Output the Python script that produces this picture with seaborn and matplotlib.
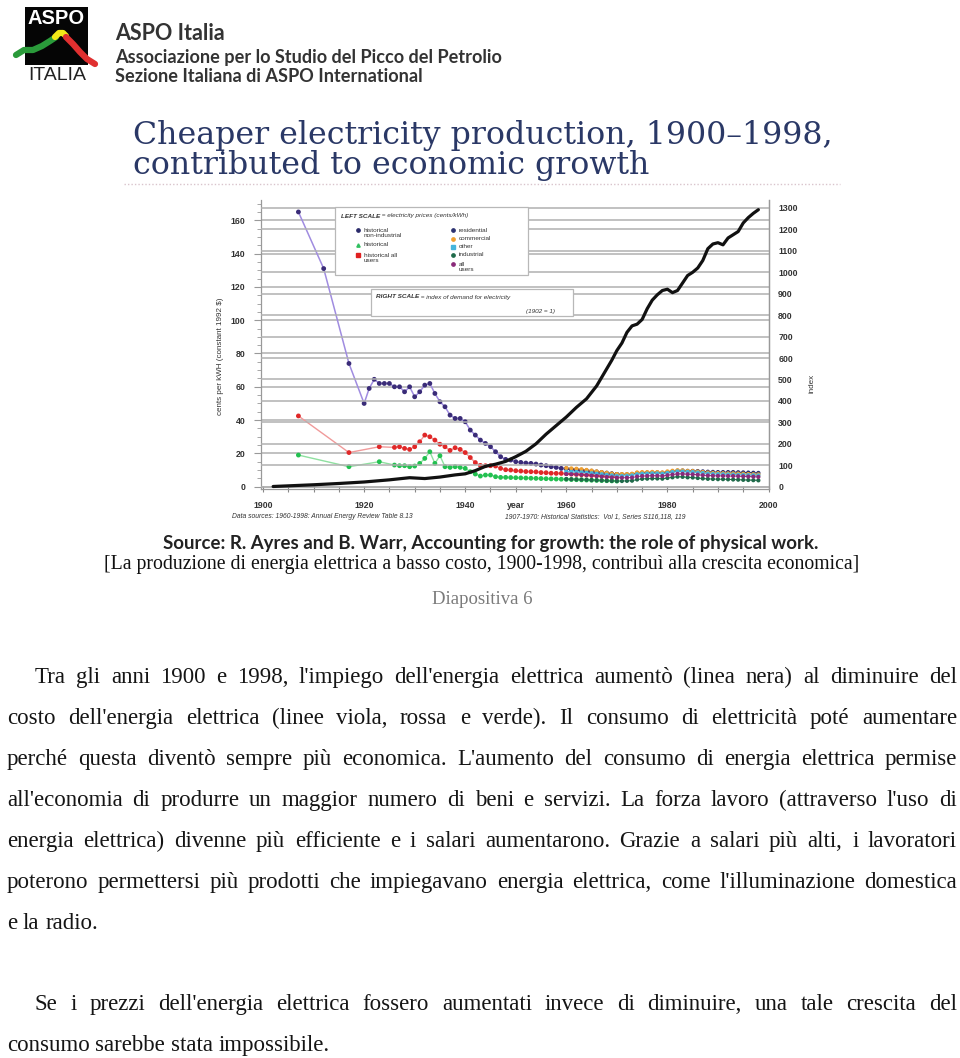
import numpy as np
import pandas as pd
import matplotlib
matplotlib.use('Agg')
import matplotlib.pyplot as plt
import seaborn as sns
from matplotlib.lines import Line2D
from matplotlib.patches import Rectangle
from matplotlib.ticker import MultipleLocator

# ---------------- data ----------------
hist_nonind_years = [1907, 1912, 1917] + list(range(1920, 1971))
hist_nonind = [165, 131, 74,
               50, 59, 64.5, 62, 62, 62, 60, 60, 57, 60,
               54, 57, 61, 62, 56, 51, 48, 43, 41, 41,
               39, 34, 31, 28, 26, 24, 21, 18, 16.4, 16,
               15, 14.6, 14.2, 14, 13.6, 13, 12.6, 12, 11.6, 11,
               10.8, 10.4, 10, 9.6, 9.2, 8.8, 8.4, 8, 7.6, 7.6,
               7.4]

hist_years = [1907, 1917, 1923] + list(range(1926, 1971))
hist_allusers = [42.5, 20.5, 24,
                 23.6, 24, 23, 22.4, 24, 27, 31, 30, 28, 25.5,
                 24, 21.8, 23.4, 22.4, 20.5, 17.5, 14.5, 12.8, 12.6, 12.6,
                 12.4, 11, 10.2, 10, 9.6, 9.4, 9.1, 9, 8.9, 8.5,
                 8.4, 8.1, 8, 8, 7.8, 7.6, 7.4, 7.2, 7, 6.8,
                 6.6, 6.4, 6.2, 6.0, 5.9]
hist_historical = [19, 12, 15,
                   13, 12.6, 12.6, 12, 12.4, 14, 17, 21, 14, 18.6,
                   12, 11.6, 12, 11.6, 11, 9, 7.6, 6.4, 7, 7,
                   6, 5.6, 5.6, 5.5, 5.4, 5.3, 5.2, 5.1, 5.0, 4.9,
                   4.8, 4.7, 4.6, 4.5, 4.4, 4.3, 4.2, 4.1, 4.0, 3.9,
                   3.8, 3.7, 3.6, 3.5, 3.4]

aer_years = list(range(1960, 1999))
aer_residential = [10.6, 10.5, 10.3, 10.1, 9.8, 9.5, 9.1, 8.8, 8.4, 8.0,
                   7.6, 7.5, 7.5, 7.6, 8.2, 8.4, 8.5, 8.6, 8.6, 8.4,
                   8.8, 9.2, 9.6, 9.7, 9.5, 9.5, 9.4, 9.2, 9.0, 8.9,
                   8.8, 8.8, 8.8, 8.8, 8.7, 8.6, 8.5, 8.4, 8.3]
aer_commercial = [11.2, 11.0, 10.8, 10.5, 10.1, 9.7, 9.2, 8.8, 8.3, 7.9,
                  7.6, 7.6, 7.6, 7.8, 8.6, 8.8, 8.8, 8.9, 8.8, 8.6,
                  9.2, 9.6, 9.9, 9.8, 9.5, 9.4, 9.1, 8.8, 8.5, 8.3,
                  8.2, 8.1, 8.0, 8.0, 7.9, 7.8, 7.6, 7.5, 7.4]
aer_other = [9.0, 8.9, 8.8, 8.6, 8.4, 8.1, 7.8, 7.5, 7.1, 6.8,
             6.5, 6.5, 6.6, 6.8, 7.5, 7.8, 7.9, 8.0, 8.0, 7.8,
             8.3, 8.8, 9.2, 9.1, 8.9, 8.8, 8.5, 8.2, 7.9, 7.7,
             7.6, 7.5, 7.4, 7.3, 7.2, 7.1, 7.0, 6.9, 6.8]
aer_industrial = [4.6, 4.5, 4.4, 4.3, 4.2, 4.0, 3.9, 3.8, 3.6, 3.5,
                  3.4, 3.4, 3.5, 3.6, 4.3, 4.7, 4.8, 4.9, 4.9, 4.8,
                  5.2, 5.6, 6.0, 5.9, 5.6, 5.5, 5.2, 4.9, 4.7, 4.6,
                  4.5, 4.5, 4.4, 4.3, 4.2, 4.1, 4.0, 3.9, 3.8]
aer_allusers = [7.6, 7.5, 7.4, 7.2, 7.0, 6.7, 6.4, 6.1, 5.8, 5.6,
                5.4, 5.4, 5.4, 5.5, 6.1, 6.4, 6.5, 6.6, 6.6, 6.4,
                6.9, 7.3, 7.7, 7.7, 7.5, 7.4, 7.2, 6.9, 6.7, 6.6,
                6.5, 6.5, 6.4, 6.4, 6.3, 6.2, 6.1, 6.0, 5.9]

demand_years = [1902, 1905, 1910, 1915, 1920, 1925, 1929, 1932, 1935, 1938,
                1940, 1942, 1944, 1946, 1948, 1950, 1952, 1954, 1956, 1958,
                1960, 1962, 1964, 1965, 1966, 1967, 1968, 1969, 1970, 1971,
                1972, 1973, 1974, 1975, 1976, 1977, 1978, 1979, 1980, 1981,
                1982, 1983, 1984, 1985, 1986, 1987, 1988, 1989, 1990, 1991,
                1992, 1993, 1994, 1995, 1996, 1997, 1998]
demand_index = [1, 4, 9, 15, 22, 32, 42, 38, 45, 55,
                60, 75, 95, 105, 118, 140, 165, 200, 245, 285,
                325, 370, 410, 440, 470, 510, 550, 590, 635, 670,
                720, 750, 758, 780, 830, 870, 895, 915, 921, 905,
                915, 950, 985, 1000, 1020, 1055, 1110, 1132, 1138, 1128,
                1160, 1175, 1190, 1230, 1255, 1275, 1292]

x_ticks = [1900, 1920, 1940, 1950, 1960, 1980, 2000]
x_ticklabels = ['1900', '1920', '1940', 'year', '1960', '1980', '2000']
left_ticks = list(range(0, 161, 20))
right_ticks = list(range(0, 1301, 100))

aer_names = ['residential', 'commercial', 'other', 'industrial', 'all users']
aer_colors = ['#2b3170', '#f0a030', '#45b5dc', '#1f6a4a', '#8a2a7a']

# ---------------- figure ----------------
sns.set_theme(style='white')
plt.rcParams['font.family'] = ['DejaVu Sans']
W, H = 960, 1058
fig = plt.figure(figsize=(W / 100, H / 100), dpi=100)
fig.patch.set_facecolor('white')
renderer = fig.canvas.get_renderer()


def fx(px):
    return px / W


def fy(py):
    return 1 - py / H


def text_run(x0, y, parts, **kw):
    """Place consecutive text segments; parts = [(text, extra_kwargs), ...]."""
    x = x0
    for s, extra in parts:
        opts = dict(kw)
        opts.update(extra)
        t = fig.text(fx(x), fy(y), s, **opts)
        x += t.get_window_extent(renderer).width
    return x


ax_l, ax_r, ax_t, ax_b = 260.5, 768.5, 200.3, 489.2
ax = fig.add_axes([fx(ax_l), fy(ax_b), (ax_r - ax_l) / W, (ax_b - ax_t) / H])
ax.set_facecolor('white')
ylim_l = (-1.5, 172)
k = 1.665 / 0.2144
ax.set_xlim(1899.5, 2000)
ax.set_ylim(*ylim_l)

grid_c = '#b0b0b0'
for v in left_ticks:
    ax.axhline(v, color=grid_c, lw=1.1, zorder=0)

# historical series
df_non = pd.DataFrame({'year': hist_nonind_years, 'price': hist_nonind})
df_all = pd.DataFrame({'year': hist_years, 'price': hist_allusers})
df_his = pd.DataFrame({'year': hist_years, 'price': hist_historical})

sns.lineplot(data=df_his, x='year', y='price', ax=ax, color='#8fe0a0', lw=1.0, zorder=3)
sns.scatterplot(data=df_his, x='year', y='price', ax=ax, color='#22c050', s=12,
                edgecolor='none', zorder=4)
sns.lineplot(data=df_all, x='year', y='price', ax=ax, color='#f09a9a', lw=1.0, zorder=3)
sns.scatterplot(data=df_all, x='year', y='price', ax=ax, color='#e02828', s=12,
                edgecolor='none', zorder=4)
sns.lineplot(data=df_non, x='year', y='price', ax=ax, color='#a08ce0', lw=1.1, zorder=3)
sns.scatterplot(data=df_non, x='year', y='price', ax=ax, color='#3a2c78', s=12,
                edgecolor='none', zorder=4)

aer_long = pd.DataFrame({
    'year': aer_years * 5,
    'price': aer_residential + aer_commercial + aer_other + aer_industrial + aer_allusers,
    'series': sum([[n] * len(aer_years) for n in aer_names], []),
})
pal = dict(zip(aer_names, aer_colors))
sns.lineplot(data=aer_long, x='year', y='price', hue='series', palette=pal, ax=ax,
             lw=0.7, legend=False, zorder=3)
sns.scatterplot(data=aer_long, x='year', y='price', hue='series', palette=pal, ax=ax,
                s=9, edgecolor='none', legend=False, zorder=4)

ax.set_xlabel('')
ax.set_ylabel('')
ax.set_xticks(x_ticks)
ax.set_xticklabels(x_ticklabels)
ax.xaxis.set_minor_locator(MultipleLocator(5))
ax.set_yticks(left_ticks)
ax.yaxis.set_minor_locator(MultipleLocator(5))
tick_font = dict(family='Liberation Sans', weight='bold', size=6.3)
for lab in ax.get_xticklabels() + ax.get_yticklabels():
    lab.set_fontproperties(matplotlib.font_manager.FontProperties(**tick_font))
    lab.set_color('#333333')
ax.tick_params(axis='x', which='both', direction='inout', length=5, width=0.8,
               color='#888888', pad=6, bottom=True)
ax.tick_params(axis='y', which='major', direction='out', length=5, width=0.8,
               color='#999999', pad=6, left=True)
ax.tick_params(axis='y', which='minor', direction='out', length=3, width=0.6,
               color='#999999', left=True)
ax.spines['top'].set_visible(False)
for s in ['left', 'bottom', 'right']:
    ax.spines[s].set_color('#999999')
    ax.spines[s].set_linewidth(0.9)

# right axis: demand index
ax2 = ax.twinx()
ax2.set_ylim(ylim_l[0] * k, ylim_l[1] * k)
for v in right_ticks:
    ax2.axhline(v, color=grid_c, lw=1.1, zorder=0)
df_dem = pd.DataFrame({'year': demand_years, 'index': demand_index})
sns.lineplot(data=df_dem, x='year', y='index', ax=ax2, color='#111111', lw=2.3, zorder=5)
ax2.set_xlim(1899.5, 2000)
ax2.set_ylabel('')
ax2.set_xlabel('')
ax2.set_yticks(right_ticks)
for lab in ax2.get_yticklabels():
    lab.set_fontproperties(matplotlib.font_manager.FontProperties(**tick_font))
    lab.set_color('#333333')
ax2.tick_params(axis='y', direction='out', length=0, pad=7)
for s in ['top', 'left', 'bottom']:
    ax2.spines[s].set_visible(False)
ax2.spines['right'].set_color('#999999')
ax2.spines['right'].set_linewidth(0.9)

# axis titles
fig.text(fx(221), fy(356), 'cents per kWH (constant 1992 $)', rotation=90,
         ha='center', va='center', fontsize=5.8, family='Liberation Sans', color='#333333')
fig.text(fx(812), fy(383), 'index', rotation=90, ha='center', va='center',
         fontsize=5.8, family='Liberation Sans', color='#333333')

# legend boxes
box_c = '#b8b8b8'
fig.patches.append(Rectangle((fx(335), fy(275)), (528 - 335) / W, (275 - 207) / H,
                             transform=fig.transFigure, facecolor='white',
                             edgecolor=box_c, lw=0.9, zorder=6))
fig.patches.append(Rectangle((fx(371), fy(316)), (573 - 371) / W, (316 - 289) / H,
                             transform=fig.transFigure, facecolor='white',
                             edgecolor=box_c, lw=0.9, zorder=6))
lf = dict(family='Liberation Sans', fontsize=4.6, color='#333333', zorder=7, va='center')
text_run(341, 216, [('LEFT SCALE', dict(style='italic', weight='bold')),
                    (' = electricity prices (cents/kWh)', dict(style='italic'))], **lf)
leg_left = [('historical\nnon-industrial', '#2a2a6a', 'o', 233),
            ('historical', '#30c060', '^', 245),
            ('historical all\nusers', '#e02020', 's', 258)]
leg_right = [('residential', '#2b3170', 'o', 230),
             ('commercial', '#f0a030', 'o', 239),
             ('other', '#45b5dc', 's', 247),
             ('industrial', '#1f6a4a', 'o', 255),
             ('all\nusers', '#8a2a7a', 'o', 267)]
for items, mx in ((leg_left, 358), (leg_right, 453)):
    for txt, col, mk, yy in items:
        first_y = yy - (3.2 if '\n' in txt else 0)
        fig.lines.append(Line2D([fx(mx)], [fy(first_y)], transform=fig.transFigure,
                                marker=mk, color=col, markersize=2.4, ls='none', zorder=7))
        fig.text(fx(mx + 6), fy(yy), txt, linespacing=1.1, **lf)
text_run(376, 297, [('RIGHT SCALE', dict(style='italic', weight='bold')),
                    (' = index of demand for electricity', dict(style='italic'))], **lf)
fig.text(fx(526), fy(311), '(1902 = 1)', style='italic', **lf)

# data sources
ds = dict(family='Liberation Sans', fontsize=4.9, style='italic', color='#333333', va='center')
fig.text(fx(232), fy(517), 'Data sources: 1960-1998: Annual Energy Review Table 8.13', **ds)
fig.text(fx(505), fy(517), '1907-1970: Historical Statistics:  Vol 1, Series S116,118, 119', **ds)

# title
tfont = dict(family='DejaVu Serif', fontsize=22.8, color='#2a3866', va='baseline', ha='left')
fig.text(fx(133), fy(144), 'Cheaper electricity production, 1900\u20131998,', **tfont)
fig.text(fx(133), fy(174), 'contributed to economic growth', **tfont)
fig.lines.append(Line2D([fx(124), fx(840)], [fy(184), fy(184)], transform=fig.transFigure,
                        color='#d9c4cc', lw=1.0, ls=(0, (1, 1.5))))

# source line
fig.text(fx(163), fy(544), 'Source: R. Ayres and B. Warr, Accounting for growth: the role of physical work.',
         family='Lato', weight='bold', fontsize=13.4, color='#222222', va='center', ha='left')

# header with logo
lax = fig.add_axes([0, fy(92), 110 / W, 92 / H])
lax.set_xlim(0, 110)
lax.set_ylim(92, 0)
lax.axis('off')
lax.add_patch(Rectangle((25, 7), 63, 58, facecolor='#050505', edgecolor='none'))
lax.text(56.5, 19, 'ASPO', color='white', fontsize=14.5, family='Liberation Sans',
         weight='bold', ha='center', va='center')
lax.plot([16, 24, 33, 42, 50, 56], [55, 50, 50, 46, 41, 37], color='#2a9a3a', lw=4.5,
         solid_capstyle='round')
lax.plot([55, 59, 63, 66], [37, 33, 33, 36], color='#f2e818', lw=4.5, solid_capstyle='round')
lax.plot([66, 73, 80, 87, 95], [37, 44, 52, 59, 64], color='#e03030', lw=4.5,
         solid_capstyle='round')
lax.text(57.5, 76, 'ITALIA', color='#222222', fontsize=14, family='Liberation Sans',
         ha='center', va='center')
hfont = dict(family='Lato', color='#333333', ha='left', va='center')
fig.text(fx(115), fy(33), 'ASPO Italia', fontsize=15.5, weight='bold', **hfont)
fig.text(fx(115), fy(57), 'Associazione per lo Studio del Picco del Petrolio', fontsize=13.1,
         weight='bold', **hfont)
fig.text(fx(115), fy(77), 'Sezione Italiana di ASPO International', fontsize=13.1,
         weight='bold', **hfont)

# caption lines
fig.text(fx(482), fy(565),
         '[La produzione di energia elettrica a basso costo, 1900-1998, contribu\u00ec alla crescita economica]',
         family='Liberation Serif', fontsize=14.2, color='#111111', ha='center', va='center')
fig.text(fx(482), fy(600), 'Diapositiva 6', family='Liberation Serif', fontsize=13.5,
         color='#7a7a7a', ha='center', va='center')

# justified paragraph
pfs = 16.5


def put_line(line, x0, x1, yb, justify=True):
    words = line.split(' ')
    ts = [fig.text(0, fy(yb), w, family='Liberation Serif', fontsize=pfs, color='#151515',
                   ha='left', va='baseline') for w in words]
    widths = [t.get_window_extent(renderer).width for t in ts]
    if justify and len(words) > 1:
        gap = (x1 - x0 - sum(widths)) / (len(words) - 1)
    else:
        gap = pfs * 100 / 72 * 0.25
    x = x0
    for t, w in zip(ts, widths):
        t.set_x(fx(x))
        x += w + gap


para = [
    ("Tra gli anni 1900 e 1998, l'impiego dell'energia elettrica aument\u00f2 (linea nera) al diminuire del", 35, 957, 683, True),
    ("costo dell'energia elettrica (linee viola, rossa e verde). Il consumo di elettricit\u00e0 pot\u00e9 aumentare", 7, 957, 724, True),
    ("perch\u00e9 questa divent\u00f2 sempre pi\u00f9 economica. L'aumento del consumo di energia elettrica permise", 7, 957, 765, True),
    ("all'economia di produrre un maggior numero di beni e servizi. La forza lavoro (attraverso l'uso di", 7, 957, 806, True),
    ("energia elettrica) divenne pi\u00f9 efficiente e i salari aumentarono. Grazie a salari pi\u00f9 alti, i lavoratori", 7, 957, 847, True),
    ("poterono permettersi pi\u00f9 prodotti che impiegavano energia elettrica, come l'illuminazione domestica", 7, 957, 888, True),
    ("e la radio.", 7, 957, 929, False),
    ("Se i prezzi dell'energia elettrica fossero aumentati invece di diminuire, una tale crescita del", 35, 957, 1010, True),
    ("consumo sarebbe stata impossibile.", 7, 957, 1051, False),
]
for line, x0, x1, yb, j in para:
    put_line(line, x0, x1, yb, j)

fig.savefig('out.png', dpi=100, facecolor='white')
